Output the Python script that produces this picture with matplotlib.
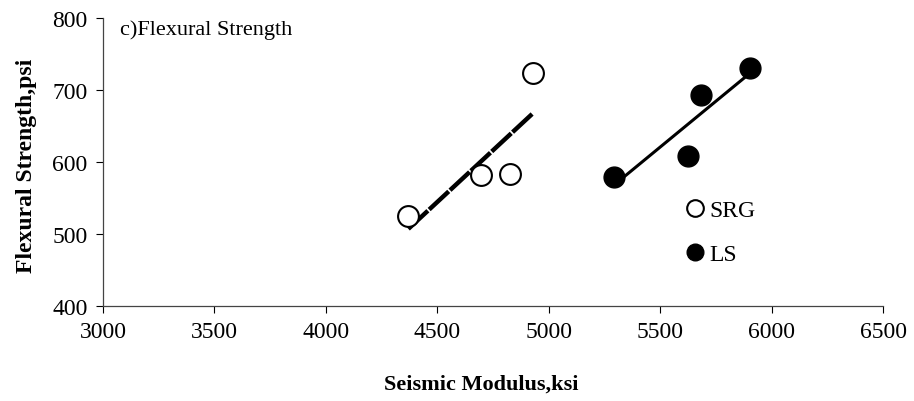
#!/usr/bin/env python3
"""Flexural strength vs seismic modulus, SRG and LS with linear fits."""
import numpy as np
import matplotlib
matplotlib.use('Agg')
import matplotlib.pyplot as plt

plt.rcParams['font.family'] = ['Liberation Serif', 'DejaVu Serif']

# SRG (open circles)
srg_modulus = [4370, 4697, 4826, 4929]
srg_strength = [525, 582, 584, 723]
# LS (filled circles)
ls_modulus = [5293, 5624, 5683, 5903]
ls_strength = [579, 608, 693, 731]

xticks = [3000, 3500, 4000, 4500, 5000, 5500, 6000, 6500]
yticks = [400, 500, 600, 700, 800]

fig = plt.figure(figsize=(9.14, 4.02), dpi=100)
ax = fig.add_axes([0.1127, 0.2363, 0.8534, 0.7164])

# Linear fits over each group's range
coef = np.polyfit(srg_modulus, srg_strength, 1)
xf = np.array([min(srg_modulus), max(srg_modulus)])
ax.plot(xf, np.polyval(coef, xf), color='black', linewidth=3.2,
        linestyle=(0, (6, 0.4)), zorder=2)

coef = np.polyfit(ls_modulus, ls_strength, 1)
xf = np.array([min(ls_modulus), max(ls_modulus)])
ax.plot(xf, np.polyval(coef, xf), color='black', linewidth=2.2, zorder=2)

# Scatter
ax.plot(srg_modulus, srg_strength, 'o', markersize=15, markerfacecolor='white',
        markeredgecolor='black', markeredgewidth=1.5, linestyle='none',
        label='SRG', zorder=3)
ax.plot(ls_modulus, ls_strength, 'o', markersize=15, color='black',
        linestyle='none', label='LS', zorder=3)

ax.set_xlim(3000, 6500)
ax.set_ylim(400, 800)
ax.set_xticks(xticks)
ax.set_yticks(yticks)
ax.tick_params(direction='out', length=5, width=0.8, labelsize=17, pad=6)
for s in ['top', 'right']:
    ax.spines[s].set_visible(False)
for s in ['left', 'bottom']:
    ax.spines[s].set_color('#444444')
    ax.spines[s].set_linewidth(0.9)

ax.set_xlabel('Seismic Modulus,ksi', fontsize=16, fontweight='bold')
ax.set_ylabel('Flexural Strength,psi', fontsize=17, fontweight='bold')
ax.xaxis.set_label_coords(0.485, -0.236)
ax.yaxis.set_label_coords(-0.085, 0.49)

ax.text(0.022, 0.962, 'c)Flexural Strength', transform=ax.transAxes,
        fontsize=16, va='center', ha='left')

ax.legend(loc='center left', bbox_to_anchor=(0.735, 0.255), frameon=False,
          fontsize=17, markerscale=0.8, handlelength=0.6, handletextpad=0.3,
          labelspacing=0.95, borderpad=0)

plt.savefig('out.png', dpi=100)
plt.close()
